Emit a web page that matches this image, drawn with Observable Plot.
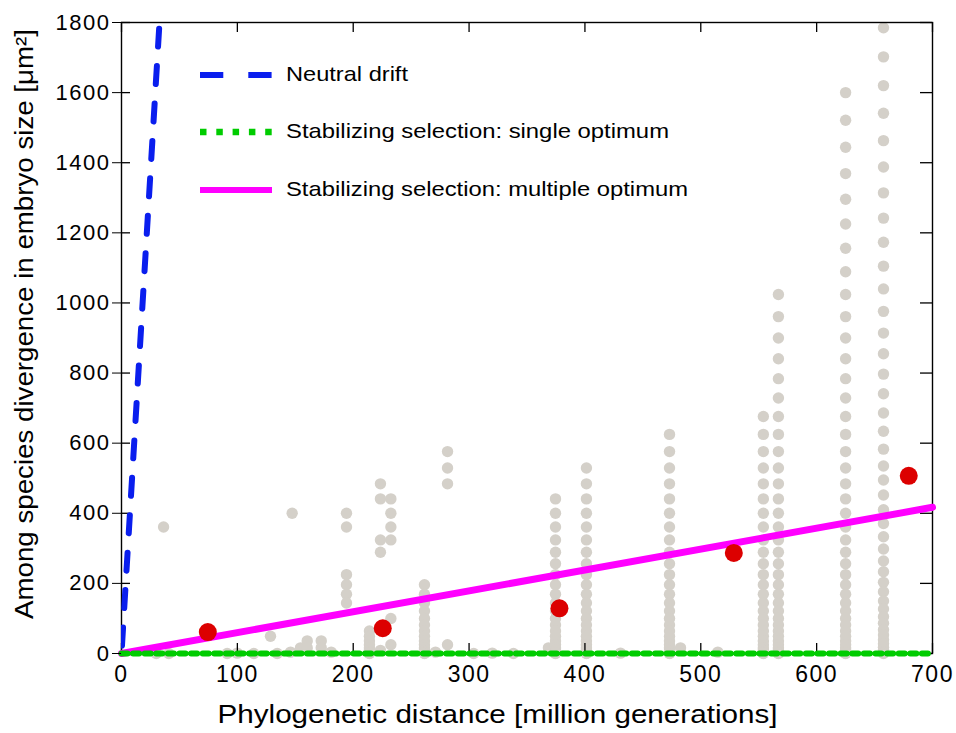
<!DOCTYPE html>
<html>
<head>
<meta charset="utf-8">
<script src="https://cdn.jsdelivr.net/npm/d3@7"></script>
<script src="https://cdn.jsdelivr.net/npm/@observablehq/plot@0.6"></script>
<style>
  body { margin: 0; background: #fff; }
  #wrap { position: relative; width: 956px; height: 733px; }
  #legend { position: absolute; left: 0; top: 0; pointer-events: none; }
</style>
</head>
<body>
<div id="wrap"></div>
<script>
// ---------- data ----------
const xTicks = [0, 100, 200, 300, 400, 500, 600, 700];
const yTicks = [0, 200, 400, 600, 800, 1000, 1200, 1400, 1600, 1800];
const xTitle = "Phylogenetic distance [million generations]";
const yTitle = "Among species divergence in embryo size [\u03bcm\u00b2]";
const seriesNames = ["Neutral drift", "Stabilizing selection: single optimum", "Stabilizing selection: multiple optimum"];

// model lines
const neutralX = [0, 32.8];
const neutralY = [0, 1800];
const singleX = [0, 700];
const singleY = [0, 0];
const multipleX = [0, 700];
const multipleY = [0, 417];

// red points (binned means)
const redX = [74.5, 225.5, 378, 528.5, 679.5];
const redY = [61, 72, 129, 287, 507];

// grey points: columns of pairwise divergences
const grayColumnX = [
  30, 36.3, 40.8, 91.2, 99.9, 114.2, 128.6, 134.4, 145.9, 147.3, 154.5, 160.3, 172.4, 181,
  194.2, 214, 223.5, 232.5, 261.5, 271, 281.4, 304, 320, 338.3, 368.5, 374.6, 401.3, 430.7,
  473, 482.5, 514.7, 554, 567, 625, 657.7
];
const grayColumnValues = [
  [0],
  [361],
  [0],
  [0],
  [1],
  [0],
  [49],
  [0],
  [4],
  [400],
  [16],
  [36, 16],
  [36, 16],
  [4],
  [400, 361, 225, 196, 169, 144],
  [64, 49, 36, 25, 16, 9, 4, 1, 0],
  [484, 441, 324, 289, 9],
  [441, 400, 361, 324, 100, 25],
  [196, 169, 144, 121, 100, 81, 64, 49, 36, 25, 16, 9, 4, 1, 0],
  [4],
  [576, 529, 484, 25],
  [0],
  [1],
  [0],
  [16],
  [441, 400, 361, 324, 289, 256, 225, 196, 169, 144, 121, 100, 81, 64, 49, 36, 25, 16, 9, 4, 1, 0],
  [529, 484, 441, 400, 361, 324, 289, 256, 225, 196, 169, 144, 121, 100, 81, 64, 49, 36, 25, 16, 9, 4, 1, 0],
  [1],
  [625, 576, 529, 484, 441, 400, 361, 324, 289, 256, 225, 196, 169, 144, 121, 100, 81, 64, 49, 36, 25, 16, 9, 4, 1, 0],
  [16],
  [4],
  [676, 625, 576, 529, 484, 441, 400, 361, 324, 289, 256, 225, 196, 169, 144, 121, 100, 81, 64, 49, 36, 25, 16, 9, 4, 1, 0],
  [1024, 961, 900, 841, 784, 729, 676, 625, 576, 529, 484, 441, 400, 361, 324, 289, 256, 225, 196, 169, 144, 121, 100, 81, 64, 49, 36, 25, 16, 9, 4, 1, 0],
  [1600, 1521, 1444, 1369, 1296, 1225, 1156, 1089, 1024, 961, 900, 841, 784, 729, 676, 625, 576, 529, 484, 441, 400, 361, 324, 289, 256, 225, 196, 169, 144, 121, 100, 81, 64, 49, 36, 25, 16, 9, 4, 1, 0],
  [1785, 1702, 1620, 1541, 1463, 1388, 1314, 1242, 1173, 1105, 1040, 976, 914, 855, 797, 741, 686, 634, 583, 535, 495, 452, 410, 371, 333, 298, 264, 233, 203, 176, 150, 127, 105, 86, 68, 53, 39, 28, 18, 11, 5, 2, 0]
];

// ---------- build tables ----------
const gray = [];
grayColumnX.forEach((x, i) => grayColumnValues[i].forEach(v => gray.push({x, y: v})));
const red = redX.map((x, i) => ({x, y: redY[i]}));
const neutral = neutralX.map((x, i) => ({x, y: neutralY[i]}));
const single = singleX.map((x, i) => ({x, y: singleY[i]}));
const multiple = multipleX.map((x, i) => ({x, y: multipleY[i]}));

const colors = {neutral: "#0a1eee", single: "#00cc00", multiple: "#ff00ff", red: "#dc0000", gray: "#d4d0c9"};

const W = 956, H = 733, mL = 121, mR = 24, mT = 22, mB = 80;
const fw = W - mL - mR, fh = H - mT - mB;
const font = "'Liberation Sans', Arial, Helvetica, sans-serif";

const chart = Plot.plot({
  width: W, height: H,
  marginLeft: mL, marginRight: mR, marginTop: mT, marginBottom: mB,
  style: {fontFamily: font, background: "white", color: "black", overflow: "visible"},
  x: {domain: [0, 700]},
  y: {domain: [0, 1800]},
  marks: [
    Plot.dot(gray, {x: "x", y: "y", r: 5.7, fill: colors.gray}),
    Plot.frame({stroke: "black", strokeWidth: 1.4}),
    Plot.ruleX(xTicks, {x: d => d, insetTop: fh - 10, stroke: "black", strokeWidth: 1.3}),
    Plot.ruleX(xTicks, {x: d => d, insetBottom: fh - 10, stroke: "black", strokeWidth: 1.3}),
    Plot.ruleY(yTicks, {y: d => d, insetRight: fw - 9, stroke: "black", strokeWidth: 1.3}),
    Plot.ruleY(yTicks, {y: d => d, insetLeft: fw - 12, stroke: "black", strokeWidth: 1.3}),
    Plot.line(multiple, {x: "x", y: "y", stroke: colors.multiple, strokeWidth: 7}),
    Plot.dot(red, {x: "x", y: "y", r: 9, fill: colors.red}),
    Plot.line(neutral, {x: "x", y: "y", stroke: colors.neutral, strokeWidth: 6,
      strokeDasharray: "18,19.5", strokeDashoffset: 29.5, clip: true}),
    Plot.line(single, {x: "x", y: "y", stroke: colors.single, strokeWidth: 6, strokeDasharray: "6,5.6"}),
    Plot.axisX({ticks: xTicks, tickSize: 0, tickPadding: 12, fontSize: 23, tickFormat: "d", label: null}),
    Plot.axisY({ticks: yTicks, tickSize: 9, tickPadding: 2, fontSize: 22, tickFormat: "d", label: null}),
    Plot.text([xTitle], {text: d => d, frameAnchor: "bottom", textAnchor: "middle", dx: -29.5, dy: 69, fontSize: 26}),
    Plot.text([yTitle], {text: d => d, frameAnchor: "left", textAnchor: "middle", rotate: -90, dx: -97, dy: -14, fontSize: 26})
  ]
});

// stretch titles to the reference widths
d3.select(chart).selectAll("text").each(function () {
  const t = this.textContent;
  if (t === xTitle) { this.setAttribute("textLength", 560); this.setAttribute("lengthAdjust", "spacingAndGlyphs"); }
  if (t === yTitle) { this.setAttribute("textLength", 590); this.setAttribute("lengthAdjust", "spacingAndGlyphs"); }
});
d3.select(chart).selectAll('[aria-label="y-axis tick label"] text, [aria-label="x-axis tick label"] text')
  .style("letter-spacing", "1.5px");

const wrap = document.getElementById("wrap");
wrap.appendChild(chart);

// ---------- legend (inside the plot, top-left) ----------
const legendStyles = [
  {stroke: colors.neutral, dash: "23.3,25", width: 6, ly: 75, ty: 73, tl: 122},
  {stroke: colors.single, dash: "6.5,9.8", width: 6.5, ly: 132, ty: 130, tl: 383},
  {stroke: colors.multiple, dash: null, width: 6, ly: 190, ty: 188, tl: 402}
];
const leg = d3.select(wrap).append("svg").attr("id", "legend").attr("width", W).attr("height", 230);
seriesNames.forEach((name, i) => {
  const s = legendStyles[i];
  leg.append("line").attr("x1", 200).attr("x2", 272).attr("y1", s.ly).attr("y2", s.ly)
    .attr("stroke", s.stroke).attr("stroke-width", s.width).attr("stroke-dasharray", s.dash);
  leg.append("text").attr("x", 286).attr("y", s.ty).attr("dominant-baseline", "central")
    .attr("font-family", font).attr("font-size", 21).attr("fill", "black")
    .attr("textLength", s.tl).attr("lengthAdjust", "spacingAndGlyphs").text(name);
});
</script>
</body>
</html>
